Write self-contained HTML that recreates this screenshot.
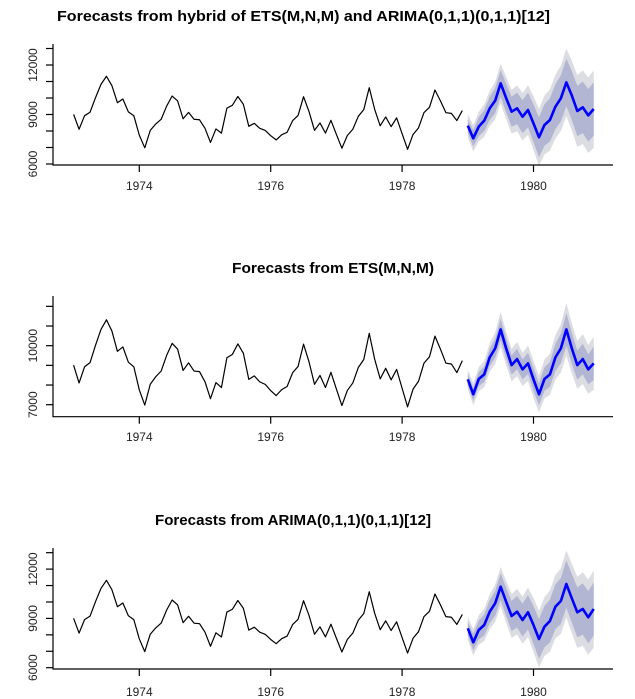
<!DOCTYPE html>
<html><head><meta charset="utf-8"><style>
body{margin:0;background:#fff;}
svg{display:block;font-family:"Liberation Sans",sans-serif;}
</style></head><body>
<svg id="c" width="635" height="699"></svg>
<script>
const hist = [9007,8106,8928,9137,10017,10826,11317,10744,9713,9938,9161,8927,
7750,6981,8038,8422,8714,9512,10120,9823,8743,9129,8710,8680,
8162,7306,8124,7870,9387,9556,10093,9620,8285,8466,8160,8034,
7717,7461,7767,7925,8623,8945,10078,9179,8037,8488,7874,8647,
7792,6957,7726,8106,8890,9299,10625,9302,8314,8850,8265,8796,
7836,6892,7791,8192,9115,9434,10484,9827,9110,9070,8633,9240];
const fcHybrid = [8323,7556,8262,8626,9373,9838,10889,10000,9171,9373,8868,9272,8465,7616,8363,8666,9474,9979,10949,10150,9212,9434,8949,9333];
const fcEts = [8289,7528,8305,8543,9406,9863,10827,9863,9015,9320,8797,9102,8289,7528,8305,8543,9406,9863,10827,9863,9015,9320,8797,9102];
const fcArima = [8396,7546,8295,8599,9408,9919,10930,10017,9146,9408,8903,9372,8599,7747,8495,8842,9712,10059,11094,10224,9372,9572,9067,9572];
const hw80Wide = [400,500,570,640,700,760,810,860,910,960,1000,1050,1150,1210,1260,1310,1360,1400,1440,1480,1520,1560,1590,1620];
const hw95Wide = [700,800,900,980,1060,1130,1200,1270,1330,1390,1440,1500,1640,1720,1790,1860,1930,1990,2050,2110,2170,2230,2290,2350];
const hw80Ets = [290,330,360,390,430,480,540,520,500,520,510,540,580,560,600,630,690,750,830,780,740,780,760,850];
const hw95Ets = [500,560,610,660,730,800,890,860,830,870,850,900,950,930,990,1040,1130,1220,1340,1270,1210,1270,1240,1350];
const yearTicks = [1974,1976,1978,1980];
const panels = [
 {name:'hybrid', title:'Forecasts from hybrid of ETS(M,N,M) and ARIMA(0,1,1)(0,1,1)[12]', tx:57, tl:493, ty:21,
  fc:fcHybrid, h80:hw80Wide, h95:hw95Wide, y0:164, v0:6000, k:0.0165, top:44, base:165, yt:[6000,7000,8000,9000,10000,11000,12000,13000], yl:[6000,9000,12000], xl:190},
 {name:'ets', title:'Forecasts from ETS(M,N,M)', tx:232, tl:202, ty:273,
  fc:fcEts, h80:hw80Ets, h95:hw95Ets, y0:404.7, v0:7000, k:0.01967, top:296, base:416.7, yt:[7000,8000,9000,10000,11000,12000], yl:[7000,10000], xl:441},
 {name:'arima', title:'Forecasts from ARIMA(0,1,1)(0,1,1)[12]', tx:155, tl:276, ty:525,
  fc:fcArima, h80:hw80Wide, h95:hw95Wide, y0:667.7, v0:6000, k:0.01643, top:548, base:669, yt:[6000,7000,8000,9000,10000,11000,12000,13000], yl:[6000,9000,12000], xl:696}
];
const NS='http://www.w3.org/2000/svg';
const svg=document.getElementById('c');
function mk(tag,attrs,parent){const e=document.createElementNS(NS,tag);for(const a in attrs)e.setAttribute(a,attrs[a]);(parent||svg).appendChild(e);return e;}
function xs(t){return 139.3+(t-1974)*65.7;}
panels.forEach(p=>{
  const g=mk('g',{});
  
  
  const ys=v=>p.y0-(v-p.v0)*p.k;
  const t=mk('text',{x:p.tx,y:p.ty,'font-size':15,'font-weight':'bold',textLength:p.tl,lengthAdjust:'spacingAndGlyphs'},g);
  t.textContent=p.title;
  
  
  const ft=i=>1979+i/12;
  function band(h,col,nm){
    let pts=p.fc.map((v,i)=>xs(ft(i))+','+ys(v+h[i]));
    for(let i=p.fc.length-1;i>=0;i--)pts.push(xs(ft(i))+','+ys(p.fc[i]-h[i]));
    const e=mk('polygon',{points:pts.join(' '),fill:col,stroke:'none'},g);
    
    
  }
  band(p.h95,'#dcdce3','band-95');
  band(p.h80,'#b2b6d2','band-80');
  const hl=mk('polyline',{points:hist.map((v,i)=>xs(1973+i/12)+','+ys(v)).join(' '),fill:'none',stroke:'#000','stroke-width':1.2,'stroke-linejoin':'round'},g);
  
  
  const fl=mk('polyline',{points:p.fc.map((v,i)=>xs(ft(i))+','+ys(v)).join(' '),fill:'none',stroke:'#0000ff','stroke-width':2.6,'stroke-linejoin':'round'},g);
  
  
  const ax=mk('path',{d:`M53,${p.top}V${p.base}H613`,fill:'none',stroke:'#000','stroke-width':1.2},g);
  
  
  p.yt.forEach(v=>{const l=mk('line',{x1:46,x2:53,y1:ys(v),y2:ys(v),stroke:'#000','stroke-width':1.2},g);
    
    });
  p.yl.forEach(v=>{const l=mk('text',{x:0,y:0,'font-size':12,'text-anchor':'middle',fill:'#222',transform:`translate(37,${ys(v)}) rotate(-90)`},g);
    l.textContent=v;
    
    });
  yearTicks.forEach(yr=>{const l=mk('line',{x1:xs(yr),x2:xs(yr),y1:p.base,y2:p.base+7,stroke:'#000','stroke-width':1.2},g);
    
    
    const tt=mk('text',{x:xs(yr),y:p.xl,'font-size':12,'text-anchor':'middle',fill:'#222'},g);
    tt.textContent=yr;
    
    });
});
</script>
</body></html>
